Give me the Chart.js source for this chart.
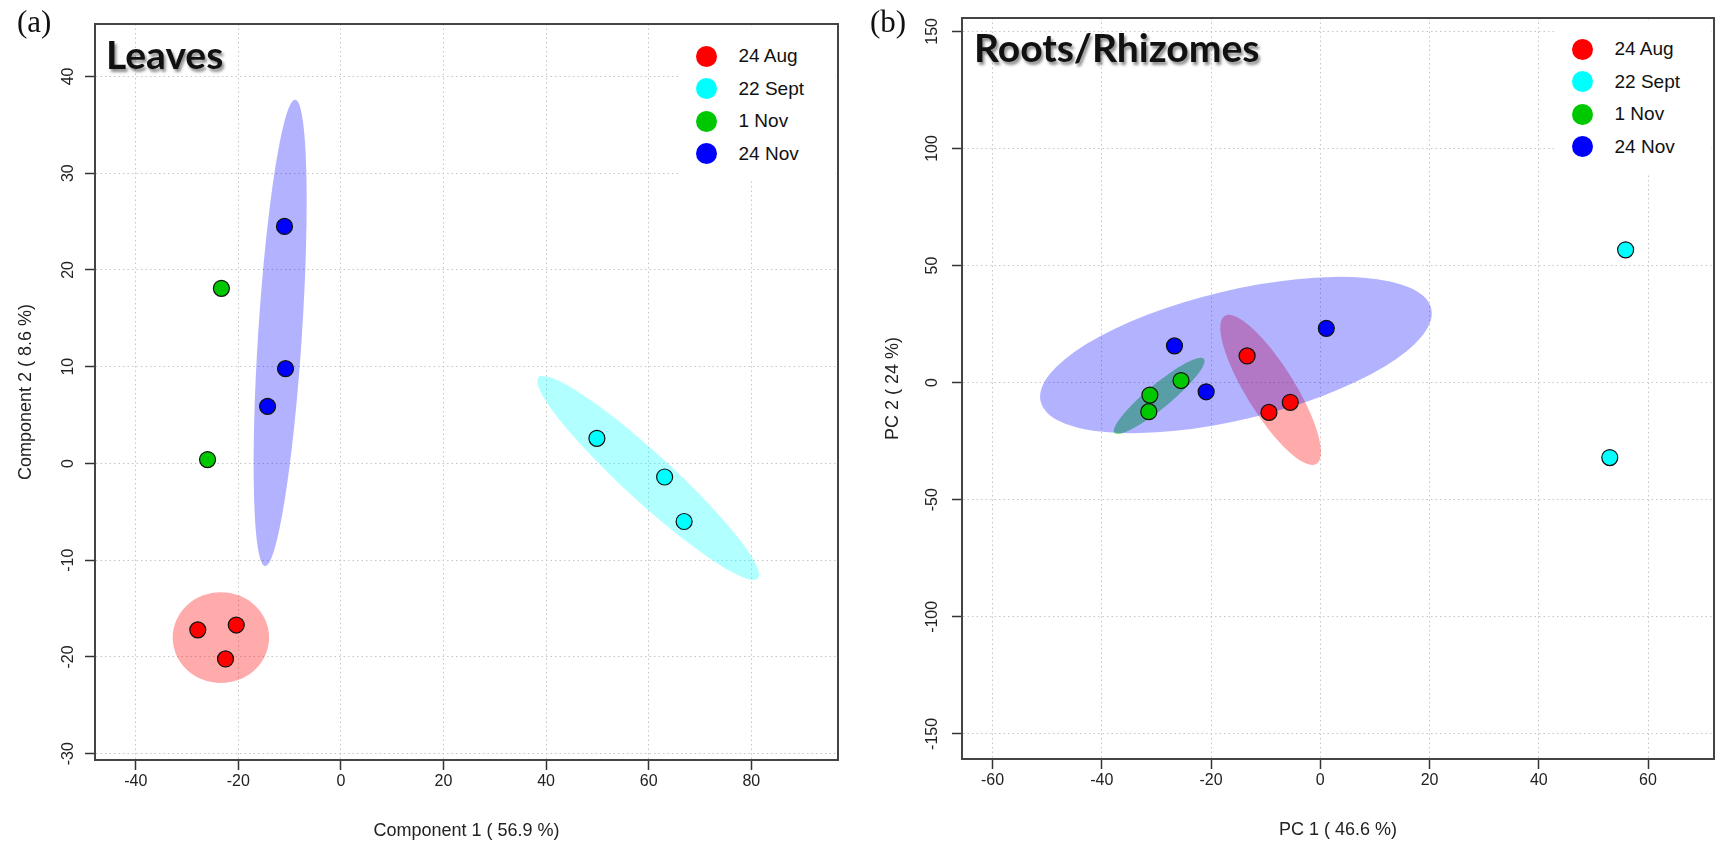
<!DOCTYPE html>
<html><head><meta charset="utf-8">
<script src="https://cdn.jsdelivr.net/npm/chart.js@4.4.1/dist/chart.umd.min.js"></script>
<style>
html,body{margin:0;padding:0;background:#fff;}
#wrap{position:relative;width:1716px;height:846px;overflow:hidden;background:#fff;}
canvas{position:absolute;top:0;}
.tag{position:absolute;font-family:'Liberation Serif','Times New Roman',serif;font-size:31px;line-height:31px;color:#111;}
.ptitle{position:absolute;font-family:Lato,'Open Sans',sans-serif;font-weight:700;font-size:39px;line-height:39px;color:#111;text-shadow:2px 3px 3px rgba(0,0,0,0.45);white-space:nowrap;}
.legend{position:absolute;background:#fff;width:155px;height:152px;}
.lg-dot{position:absolute;width:21px;height:21px;border-radius:50%;}
.lg-txt{position:absolute;font-family:'Liberation Sans',Arial,sans-serif;font-size:19px;line-height:22px;color:#111;white-space:nowrap;}
</style></head>
<body><div id="wrap">
<canvas id="cA" width="858" height="846" style="left:0px"></canvas>
<canvas id="cB" width="858" height="846" style="left:858px"></canvas>
<div class="tag" style="left:17px;top:6px">(a)</div>
<div class="tag" style="left:870px;top:6px">(b)</div>
<div class="ptitle" style="left:106px;top:35px">Leaves</div>
<div class="ptitle" style="left:974px;top:28px">Roots/Rhizomes</div>
<div id="legA" class="legend" style="left:680px;top:27px"></div>
<div id="legB" class="legend" style="left:1556px;top:21px"></div>
</div>
<script>
// ---------- data ----------
const groups = ['24 Aug', '22 Sept', '1 Nov', '24 Nov'];

// (a) Leaves
const leavesAugX = [-27.9, -20.4, -22.5];
const leavesAugY = [-17.2, -16.7, -20.2];
const leavesSeptX = [49.9, 63.1, 66.9];
const leavesSeptY = [2.6, -1.4, -6.0];
const leavesNov1X = [-23.3, -26.0];
const leavesNov1Y = [18.1, 0.4];
const leavesNov24X = [-11.0, -10.8, -14.3];
const leavesNov24Y = [24.5, 9.8, 5.9];

// (b) Roots/Rhizomes
const rootsAugX = [-13.4, -5.5, -9.4];
const rootsAugY = [11.4, -8.4, -12.7];
const rootsSeptX = [55.9, 53.0];
const rootsSeptY = [56.7, -32.0];
const rootsNov1X = [-25.5, -31.2, -31.4];
const rootsNov1Y = [0.9, -5.3, -12.4];
const rootsNov24X = [1.1, -26.7, -20.9];
const rootsNov24Y = [23.2, 15.7, -3.9];

// confidence ellipses: [centerX, centerY, majorEndX, majorEndY, minorEndX, minorEndY]
const leavesEllAug = [-23.4, -18.0, -14.0, -18.0, -23.4, -22.7];
const leavesEllSept = [59.9, -1.5, 81.3, -11.9, 56.7, -3.3];
const leavesEllNov24 = [-11.85, 13.5, -8.9, 37.6, -7.6, 13.3];
const rootsEllAug = [-9.1, -3.1, -0.7, -34.7, -5.3, 2.3];
const rootsEllNov1 = [-29.5, -5.7, -21.3, 10.1, -28.1, -9.6];
const rootsEllNov24 = [-15.45, 11.8, 20.3, 31.7, -12.7, -15.0];

// tick labels
const leavesTicksX = [-40, -20, 0, 20, 40, 60, 80];
const leavesTicksY = [-30, -20, -10, 0, 10, 20, 30, 40];
const rootsTicksX = [-60, -40, -20, 0, 20, 40, 60];
const rootsTicksY = [-150, -100, -50, 0, 50, 100, 150];

// ---------- styles ----------
const pointColors = ['#ff0000', '#00ffff', '#00c800', '#0000ff'];
const ellColors = ['rgba(255,0,0,0.33)', 'rgba(0,255,255,0.3)', 'rgba(0,200,0,0.5)', 'rgba(0,0,255,0.3)'];

Chart.defaults.font.family = "'Liberation Sans', Arial, Helvetica, sans-serif";
Chart.defaults.color = '#222';

function pairs(xs, ys) { return xs.map((v, i) => ({ x: v, y: ys[i] })); }

const ellipsePlugin = {
  id: 'ellipses',
  beforeDatasetsDraw(chart, args, opts) {
    const { ctx, chartArea: a, scales: { x, y } } = chart;
    ctx.save();
    ctx.beginPath(); ctx.rect(a.left, a.top, a.right - a.left, a.bottom - a.top); ctx.clip();
    for (const it of opts.items) {
      const e = it.e;
      const cx = x.getPixelForValue(e[0]), cy = y.getPixelForValue(e[1]);
      const ux = x.getPixelForValue(e[2]) - cx, uy = y.getPixelForValue(e[3]) - cy;
      const vx = x.getPixelForValue(e[4]) - cx, vy = y.getPixelForValue(e[5]) - cy;
      ctx.save();
      ctx.transform(ux, uy, vx, vy, cx, cy);
      ctx.beginPath(); ctx.arc(0, 0, 1, 0, Math.PI * 2);
      ctx.restore();
      ctx.fillStyle = it.color;
      ctx.fill();
    }
    ctx.restore();
  }
};

const boxPlugin = {
  id: 'box',
  afterDatasetsDraw(chart) {
    const { ctx, chartArea: a } = chart;
    ctx.save();
    ctx.strokeStyle = '#444'; ctx.lineWidth = 2;
    ctx.strokeRect(a.left, a.top, a.right - a.left, a.bottom - a.top);
    ctx.restore();
  }
};

function axis(o) {
  return {
    type: 'linear', min: o.min, max: o.max,
    afterBuildTicks: s => { s.ticks = o.ticks.map(v => ({ value: v })); },
    afterFit: s => {
      if (o.horiz) s.height = o.size; else s.width = o.size;
      s.paddingLeft = 0; s.paddingRight = 0; s.paddingTop = 0; s.paddingBottom = 0;
    },
    grid: { color: '#c6c6c6', lineWidth: 1, drawTicks: true, tickLength: 10, tickColor: '#333', tickWidth: 1.5, tickBorderDash: [] },
    border: { display: true, color: '#444', width: 2, dash: [1.5, 3] },
    ticks: o.horiz
      ? { autoSkip: false, maxRotation: 0, minRotation: 0, padding: 2, font: { size: 16 }, color: '#222' }
      : { autoSkip: false, maxRotation: 90, minRotation: 90, crossAlign: 'center', padding: o.tickPad, font: { size: 16 }, color: '#222' },
    title: { display: true, text: o.title, font: { size: 18 }, color: '#222', padding: o.titlePad }
  };
}

function makeChart(id, sets, ells, xo, yo, pad) {
  return new Chart(document.getElementById(id), {
    type: 'scatter',
    data: {
      datasets: sets.map((s, i) => ({
        label: groups[i], data: pairs(s[0], s[1]),
        backgroundColor: pointColors[i], borderColor: '#111', borderWidth: 1.2,
        pointRadius: 8, pointHoverRadius: 8
      }))
    },
    options: {
      responsive: false, animation: false, devicePixelRatio: 1,
      layout: { padding: pad, autoPadding: false },
      plugins: { legend: { display: false }, tooltip: { enabled: false }, ellipses: { items: ells } },
      scales: { x: axis(xo), y: axis(yo) }
    },
    plugins: [ellipsePlugin, boxPlugin]
  });
}

const chartA = makeChart('cA',
  [[leavesAugX, leavesAugY], [leavesSeptX, leavesSeptY], [leavesNov1X, leavesNov1Y], [leavesNov24X, leavesNov24Y]],
  [{ e: leavesEllAug, color: ellColors[0] }, { e: leavesEllSept, color: ellColors[1] }, { e: leavesEllNov24, color: ellColors[3] }],
  { horiz: true, min: -47.94, max: 96.9, ticks: leavesTicksX, size: 86, title: 'Component 1 ( 56.9 %)', titlePad: { top: 0, bottom: 4 } },
  { horiz: false, min: -30.65, max: 45.42, ticks: leavesTicksY, size: 95, tickPad: 5, title: 'Component 2 ( 8.6 %)', titlePad: { top: 15, bottom: 0 } },
  { left: 0, top: 24, right: 20, bottom: 0 });

const chartB = makeChart('cB',
  [[rootsAugX, rootsAugY], [rootsSeptX, rootsSeptY], [rootsNov1X, rootsNov1Y], [rootsNov24X, rootsNov24Y]],
  [{ e: rootsEllAug, color: ellColors[0] }, { e: rootsEllNov1, color: ellColors[2] }, { e: rootsEllNov24, color: ellColors[3] }],
  { horiz: true, min: -65.6, max: 72.08, ticks: rootsTicksX, size: 87, title: 'PC 1 ( 46.6 %)', titlePad: { top: 0, bottom: 5 } },
  { horiz: false, min: -160.7, max: 155.7, ticks: rootsTicksY, size: 104, tickPad: 3, title: 'PC 2 ( 24 %)', titlePad: { top: 24, bottom: 0 } },
  { left: 0, top: 18, right: 2, bottom: 0 });

function buildLegend(chart, elId, topShift) {
  const box = document.getElementById(elId);
  chart.data.datasets.forEach((ds, i) => {
    const cy = 30 - topShift + i * 32.6;
    const dot = document.createElement('div');
    dot.className = 'lg-dot';
    dot.style.left = (26 - 10.5) + 'px';
    dot.style.top = (cy - 10.5) + 'px';
    dot.style.background = ds.backgroundColor;
    const t = document.createElement('div');
    t.className = 'lg-txt';
    t.style.left = '58.5px';
    t.style.top = (cy - 11) + 'px';
    t.textContent = ds.label;
    box.appendChild(dot); box.appendChild(t);
  });
}
buildLegend(chartA, 'legA', 1);
buildLegend(chartB, 'legB', 2);
</script>
</body></html>
